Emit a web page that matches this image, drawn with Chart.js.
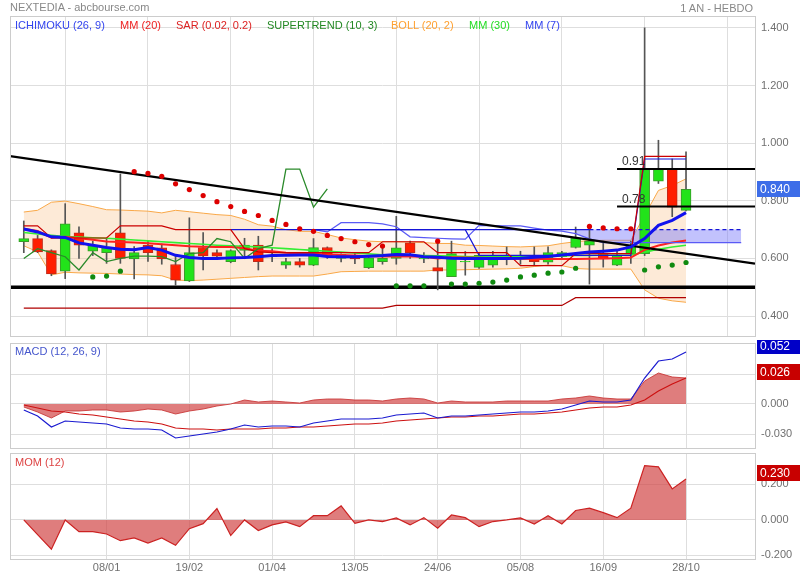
<!DOCTYPE html>
<html lang="fr">
<head>
<meta charset="UTF-8">
<title>NEXTEDIA - abcbourse.com</title>
<script src="https://cdn.jsdelivr.net/npm/chart.js"></script>
<style>
  body { margin: 0; background: #fff; font-family: "Liberation Sans", Arial, sans-serif; }
  #wrap { position: relative; width: 800px; height: 580px; overflow: hidden; }
  canvas { position: absolute; left: 0; }
  .txt { position: absolute; font-size: 11px; line-height: 13px; white-space: nowrap; }
</style>
</head>
<body>
<div id="wrap">
  <canvas id="main" width="800" height="340" style="top:0"></canvas>
  <canvas id="macd" width="800" height="110" style="top:340px"></canvas>
  <canvas id="mom" width="800" height="130" style="top:450px"></canvas>

  <div class="txt" style="left:10px;top:1px;color:#888">NEXTEDIA - abcbourse.com</div>
  <div class="txt" style="right:47px;top:2px;color:#888">1 AN - HEBDO</div>

  <div class="txt" style="left:15px;top:19px;color:#3344ee">ICHIMOKU (26, 9)</div>
  <div class="txt" style="left:120px;top:19px;color:#ee2222">MM (20)</div>
  <div class="txt" style="left:176px;top:19px;color:#dd2222">SAR (0.02, 0.2)</div>
  <div class="txt" style="left:267px;top:19px;color:#228822">SUPERTREND (10, 3)</div>
  <div class="txt" style="left:391px;top:19px;color:#ffa030">BOLL (20, 2)</div>
  <div class="txt" style="left:469px;top:19px;color:#22dd22">MM (30)</div>
  <div class="txt" style="left:525px;top:19px;color:#3344ee">MM (7)</div>

  <div class="txt" style="left:15px;top:345px;color:#4455cc">MACD (12, 26, 9)</div>
  <div class="txt" style="left:15px;top:456px;color:#dd4444">MOM (12)</div>
</div>

<script>
// weekly candles, index 0 = 27/11 ... index 48 = 28/10
const opens  = [0.658,0.669,0.627,0.556,0.689,0.625,0.620,0.689,0.598,0.646,
                0.637,0.579,0.522,0.638,0.620,0.589,0.628,0.646,0.606,0.577,
                0.589,0.577,0.638,0.600,0.609,0.568,0.589,0.600,0.654,0.598,
                0.568,0.537,0.588,0.569,0.577,0.611,0.600,0.611,0.587,0.606,
                0.638,0.646,0.617,0.577,0.617,0.617,0.868,0.910,0.767];
const highs  = [0.730,0.680,0.630,0.790,0.710,0.660,0.669,0.893,0.641,0.659,
                0.650,0.607,0.741,0.690,0.630,0.630,0.670,0.677,0.634,0.600,
                0.600,0.669,0.640,0.616,0.620,0.610,0.640,0.746,0.660,0.620,
                0.663,0.660,0.624,0.620,0.625,0.640,0.625,0.640,0.640,0.625,
                0.709,0.709,0.660,0.630,0.660,1.400,1.010,0.945,0.970];
const lows   = [0.620,0.620,0.540,0.530,0.600,0.610,0.583,0.583,0.529,0.590,
                0.580,0.507,0.520,0.560,0.600,0.585,0.600,0.560,0.589,0.565,
                0.570,0.575,0.600,0.588,0.582,0.565,0.580,0.580,0.600,0.585,
                0.491,0.537,0.542,0.565,0.570,0.578,0.580,0.575,0.580,0.600,
                0.636,0.511,0.570,0.575,0.583,0.610,0.860,0.745,0.765];
const closes = [0.669,0.623,0.546,0.720,0.646,0.646,0.638,0.600,0.620,0.620,
                0.598,0.525,0.620,0.609,0.608,0.627,0.646,0.589,0.610,0.589,
                0.577,0.638,0.606,0.614,0.598,0.602,0.600,0.637,0.620,0.601,
                0.556,0.617,0.590,0.611,0.608,0.606,0.611,0.589,0.620,0.620,
                0.671,0.660,0.598,0.612,0.646,0.910,0.910,0.778,0.840];

// moving averages and bands
const mm7  = [0.702,0.692,0.675,0.673,0.654,0.646,0.638,0.632,0.630,0.638,
              0.629,0.611,0.603,0.600,0.600,0.602,0.603,0.606,0.610,0.611,
              0.612,0.612,0.607,0.606,0.606,0.608,0.610,0.614,0.613,0.606,
              0.604,0.601,0.600,0.600,0.600,0.600,0.601,0.604,0.607,0.612,
              0.617,0.622,0.625,0.629,0.640,0.669,0.715,0.732,0.759];
const mm20 = [0.703,0.695,0.672,0.675,0.670,0.665,0.659,0.657,0.655,0.653,
              0.649,0.646,0.642,0.641,0.640,0.640,0.635,0.627,0.625,0.620,
              0.617,0.616,0.614,0.612,0.610,0.608,0.607,0.607,0.607,0.606,
              0.600,0.604,0.603,0.602,0.601,0.600,0.599,0.598,0.598,0.598,
              0.598,0.599,0.600,0.601,0.603,0.630,0.645,0.655,0.662];
const mm30 = [0.690,0.685,0.680,0.676,0.674,0.672,0.670,0.667,0.664,0.661,
              0.658,0.655,0.652,0.649,0.646,0.644,0.642,0.640,0.637,0.634,
              0.631,0.628,0.625,0.622,0.619,0.616,0.613,0.611,0.611,0.610,
              0.609,0.608,0.607,0.606,0.606,0.606,0.606,0.607,0.608,0.609,
              0.610,0.610,0.611,0.611,0.612,0.622,0.632,0.640,0.646];
const bbUp  = [0.761,0.767,0.795,0.799,0.790,0.780,0.769,0.768,0.766,0.764,
               0.758,0.767,0.762,0.757,0.752,0.749,0.736,0.717,0.712,0.700,
               0.694,0.694,0.683,0.671,0.665,0.660,0.658,0.658,0.657,0.655,
               0.652,0.652,0.646,0.645,0.643,0.641,0.640,0.642,0.644,0.652,
               0.658,0.662,0.663,0.663,0.663,0.749,0.836,0.853,0.876];
const bbLow = [0.644,0.623,0.543,0.552,0.550,0.549,0.548,0.546,0.544,0.543,
               0.540,0.525,0.523,0.525,0.528,0.531,0.534,0.537,0.539,0.539,
               0.539,0.539,0.546,0.554,0.555,0.556,0.556,0.556,0.556,0.556,
               0.560,0.560,0.561,0.562,0.563,0.564,0.566,0.572,0.577,0.575,
               0.565,0.563,0.563,0.563,0.563,0.491,0.462,0.453,0.448];

// ichimoku
const tenkan = [0.713,0.713,0.671,0.671,0.671,0.671,0.671,0.713,0.713,0.713,
                0.713,0.700,0.700,0.700,0.700,0.700,0.634,0.623,0.620,0.620,
                0.620,0.620,0.620,0.620,0.620,0.620,0.658,0.658,0.658,0.658,
                0.620,0.620,0.620,0.620,0.620,0.620,0.575,0.575,0.575,0.575,
                0.617,0.617,0.617,0.617,0.617,0.954,0.954,0.954,0.954];
const kijun  = [null,null,null,null,null,null,null,null,null,null,
                null,null,null,null,null,0.700,0.700,0.700,0.700,0.700,
                0.700,0.700,0.700,0.700,0.700,0.700,0.700,0.700,0.700,0.700,
                0.700,0.700,0.700,0.611,0.611,0.611,0.611,0.611,0.611,0.611,
                0.611,0.611,0.611,0.611,0.611,0.945,0.945,0.945,0.945];
// spans run 4 weeks past the last candle (to index 52)
const senkouA = [null,null,null,null,null,null,null,null,null,null,
                 null,null,null,null,null,null,null,null,null,null,
                 null,0.700,0.700,0.700,0.700,0.700,0.700,0.700,0.700,0.700,
                 0.700,0.700,0.700,0.700,0.700,0.700,0.700,0.700,0.700,0.700,
                 0.700,0.700,0.700,0.700,0.700,0.700,0.700,0.700,0.700,0.700,
                 0.700,0.700,0.700];
const senkouB = [null,null,null,null,null,null,null,null,null,null,
                 null,null,null,null,null,null,null,null,null,null,
                 null,0.700,0.692,0.724,0.724,0.724,0.720,0.710,0.675,0.672,
                 0.670,0.668,0.667,0.715,0.714,0.713,0.713,0.705,0.698,0.695,
                 0.686,0.668,0.655,0.655,0.655,0.655,0.655,0.655,0.655,0.655,
                 0.655,0.655,0.655];
const cloudFrom = 40;
const chikou = [0.428,0.428,0.428,0.428,0.428,0.428,0.428,0.428,0.428,0.428,
                0.428,0.428,0.428,0.428,0.428,0.428,0.428,0.428,0.428,0.428,
                0.428,0.428,0.428,0.428,0.428,0.428,0.428,0.437,0.437,0.437,
                0.437,0.437,0.437,0.437,0.437,0.437,0.437,0.437,0.437,0.437,
                0.464,0.464,0.464,0.464,0.464,0.464,0.464,0.464,0.464];

const supertrend = [0.600,0.634,0.620,0.606,0.560,0.620,0.589,0.600,0.608,0.608,
                    0.606,0.589,0.617,0.620,0.669,0.658,0.600,0.634,0.646,0.910,
                    0.910,0.778,0.841];

const sarHigh = [null,null,null,null,null,null,null,null,0.901,0.895,
                 0.885,0.859,0.839,0.818,0.797,0.780,0.763,0.749,0.732,0.718,
                 0.703,0.694,0.680,0.669,0.658,0.648,0.643,null,null,null,
                 0.660,null,null,null,null,null,null,null,null,null,
                 null,0.711,0.706,0.703,0.703,null,null,null,null];
const sarLow  = [null,null,null,null,null,0.536,0.539,0.556,null,null,
                 null,null,null,null,null,null,null,null,null,null,
                 null,null,null,null,null,null,null,0.505,0.505,0.505,
                 null,0.511,0.511,0.514,0.518,0.525,0.536,0.542,0.549,0.553,
                 0.566,null,null,null,null,0.560,0.571,0.577,0.586];

// drawn lines: resistance trend, support, retracement levels
const trendX = [-1, 53];
const trendY = [0.955, 0.582];
const supportLevel = 0.5;
const fibLevels = [0.91, 0.78];
const fibFrom = 43;

// MACD (12, 26, 9)
const macd   = [-0.006,-0.012,-0.023,-0.017,-0.018,-0.019,-0.020,-0.024,-0.025,-0.025,
                -0.026,-0.034,-0.032,-0.030,-0.028,-0.025,-0.021,-0.023,-0.022,-0.022,
                -0.023,-0.019,-0.017,-0.015,-0.015,-0.015,-0.014,-0.011,-0.010,-0.009,
                -0.014,-0.012,-0.012,-0.011,-0.010,-0.009,-0.008,-0.008,-0.007,-0.005,
                -0.001,0.003,0.002,0.002,0.004,0.026,0.043,0.045,0.052];
const signal = [-0.001,-0.004,-0.007,-0.008,-0.010,-0.011,-0.013,-0.015,-0.017,-0.018,
                -0.020,-0.024,-0.025,-0.025,-0.026,-0.025,-0.025,-0.025,-0.024,-0.024,
                -0.023,-0.023,-0.022,-0.021,-0.020,-0.020,-0.019,-0.017,-0.016,-0.015,
                -0.014,-0.013,-0.013,-0.012,-0.012,-0.011,-0.010,-0.010,-0.009,-0.008,
                -0.006,-0.004,-0.003,-0.003,-0.001,0.004,0.013,0.020,0.026];
const histo  = [-0.003,-0.008,-0.014,-0.007,-0.007,-0.006,-0.006,-0.008,-0.007,-0.005,
                -0.006,-0.010,-0.007,-0.005,-0.002,0.000,0.004,0.002,0.003,0.002,
                0.001,0.004,0.005,0.005,0.004,0.004,0.003,0.005,0.006,0.005,
                0.001,0.003,0.002,0.002,0.002,0.003,0.003,0.003,0.003,0.005,
                0.006,0.008,0.006,0.005,0.005,0.023,0.031,0.027,0.026];

// MOM (12)
const mom = [0.000,-0.083,-0.165,0.000,-0.066,-0.066,-0.079,-0.117,-0.101,-0.130,
             -0.101,-0.143,-0.049,-0.021,0.064,-0.088,0.000,-0.060,-0.028,-0.011,
             -0.038,0.024,0.024,0.079,-0.019,0.000,-0.009,0.011,-0.028,0.013,
             -0.047,0.028,0.013,-0.038,-0.009,0.000,0.011,-0.023,0.024,-0.023,
             0.053,0.066,0.041,0.013,0.066,0.306,0.299,0.175,0.230];

// x axis
const tickIdx    = [6, 12, 18, 24, 30, 36, 42, 48];
const tickLabels = ['08/01', '19/02', '01/04', '13/05', '24/06', '05/08', '16/09', '28/10'];
const xMin = -1, xMax = 53;

const mainTicks = [0.4, 0.6, 0.8, 1.0, 1.2, 1.4];
const macdTicks = [-0.03, 0, 0.03];
const momTicks  = [-0.2, 0, 0.2];

Chart.defaults.font.family = '"Liberation Sans", Arial, sans-serif';
Chart.defaults.font.size = 11;
Chart.defaults.color = '#707070';
Chart.defaults.animation = false;

const GRID = '#dedede';
const xy = arr => arr.map((v, i) => ({ x: i, y: v }));

function line(data, color, width, extra) {
    return Object.assign({
        type: 'line', data: data, borderColor: color, borderWidth: width,
        pointRadius: 0, fill: false, tension: 0, spanGaps: false
    }, extra || {});
}
function dots(arr, color) {
    return line(xy(arr), 'transparent', 0, {
        showLine: false, pointRadius: 2.6, pointBackgroundColor: color, pointBorderWidth: 0
    });
}

// panel border + value tags on the right
function panelPlugin(tags, labels) {
    return {
        id: 'panel',
        afterDraw(chart) {
            const ctx = chart.ctx, a = chart.chartArea, ys = chart.scales.y, xs = chart.scales.x;
            ctx.save();
            ctx.strokeStyle = '#cccccc';
            ctx.lineWidth = 1;
            ctx.strokeRect(a.left + 0.5, a.top + 0.5, a.right - a.left, a.bottom - a.top);
            (labels || []).forEach(l => {
                ctx.fillStyle = '#333';
                ctx.font = '12px "Liberation Sans", Arial, sans-serif';
                ctx.textBaseline = 'middle';
                ctx.fillText(l.text, xs.getPixelForValue(l.x) + 5, ys.getPixelForValue(l.y) - 7);
            });
            tags.forEach(t => {
                const y = Math.round(ys.getPixelForValue(t.value) + t.dy);
                ctx.fillStyle = t.bg;
                ctx.fillRect(a.right + 2, y - 8, 45, 16);
                ctx.fillStyle = '#fff';
                ctx.font = '12px "Liberation Sans", Arial, sans-serif';
                ctx.textBaseline = 'middle';
                ctx.fillText(t.value.toFixed(3), a.right + 5, y + 1);
            });
            ctx.restore();
        }
    };
}

function options(yMin, yMax, yTicks, pad, showX) {
    return {
        responsive: false,
        devicePixelRatio: 1,
        layout: { padding: pad },
        plugins: { legend: { display: false }, tooltip: { enabled: false } },
        scales: {
            x: {
                type: 'linear', min: xMin, max: xMax, offset: false,
                grid: { color: GRID, drawTicks: false },
                border: { display: false },
                ticks: {
                    display: showX, padding: 2, maxRotation: 0,
                    callback: (v, i) => tickLabels[i]
                },
                afterBuildTicks: s => { s.ticks = tickIdx.map(v => ({ value: v })); },
                afterFit: s => {
                    s.height = showX ? 21 : 0;
                    s.paddingLeft = 0; s.paddingRight = 0;
                }
            },
            y: {
                position: 'right', min: yMin, max: yMax,
                grid: { color: GRID, drawTicks: false },
                border: { display: false },
                ticks: { padding: 6, callback: v => Number(v).toFixed(3) },
                afterBuildTicks: s => { s.ticks = yTicks.map(v => ({ value: v })); },
                afterFit: s => {
                    s.width = 45;
                    s.paddingTop = 0; s.paddingBottom = 0;
                }
            }
        }
    };
}

// ---------- main price panel ----------
const idx = closes.map((_, i) => i);
const up = idx.map(i => closes[i] >= opens[i]);
const cloudTop = senkouA.map((v, i) => ({ x: i, y: v })).slice(cloudFrom);
const cloudBot = senkouB.map((v, i) => ({ x: i, y: v })).slice(cloudFrom);

const mainSets = [
    line(xy(bbUp), '#f9a848', 1, { fill: '+1', backgroundColor: 'rgba(250,205,160,0.42)' }),
    line(xy(bbLow), '#f9a848', 1),
    line(cloudTop, 'transparent', 0),
    line(cloudBot, 'transparent', 0, { fill: '-1', backgroundColor: 'rgba(120,120,250,0.45)' }),
    line(xy(chikou), '#b00000', 1.2),
    line(trendX.map(x => ({ x: x, y: supportLevel })), '#000', 3.5),
    {
        type: 'bar', grouped: false, barThickness: 1,
        data: idx.map(i => ({ x: i, y: [lows[i], highs[i]] })),
        backgroundColor: '#555'
    },
    {
        type: 'bar', grouped: false, barThickness: 10, borderWidth: 1, borderSkipped: false,
        data: idx.map(i => ({ x: i, y: [opens[i], closes[i]] })),
        backgroundColor: up.map(u => u ? '#22e31a' : '#ff1e00'),
        borderColor: up.map(u => u ? '#3a9a2a' : '#c02a1a')
    },
    line(xy(mm30), '#33ee33', 1.6),
    line(xy(mm20), '#ff2020', 2),
    line(xy(senkouB), '#5a5af5', 1.2),
    line(xy(senkouA), '#1515d8', 1.2, {
        segment: { borderDash: c => c.p0.parsed.x >= cloudFrom + 1 ? [4, 3] : undefined }
    }),
    line(xy(kijun), '#1515d8', 1.2),
    line(xy(tenkan), '#cc0000', 1.2),
    line(xy(supertrend), '#2a8a2a', 1.3),
    line(trendX.map((x, i) => ({ x: x, y: trendY[i] })), '#000', 2.2),
    line([{ x: fibFrom, y: fibLevels[0] }, { x: xMax, y: fibLevels[0] }], '#000', 2),
    line([{ x: fibFrom, y: fibLevels[1] }, { x: xMax, y: fibLevels[1] }], '#000', 2),
    line(xy(mm7), '#1111ee', 3),
    dots(sarHigh, '#dd0000'),
    dots(sarLow, '#108a10')
];
mainSets.forEach((d, k) => { d.order = mainSets.length - k; });

new Chart(document.getElementById('main'), {
    type: 'bar',
    data: { datasets: mainSets },
    options: options(0.331, 1.441, mainTicks, { left: 10, right: 0, top: 16, bottom: 2 }, false),
    plugins: [panelPlugin(
        [{ value: closes[closes.length - 1], bg: '#3d6de8', dy: 0 }],
        fibLevels.map(f => ({ text: String(f), x: fibFrom, y: f }))
    )]
});

// ---------- MACD panel ----------
const macdSets = [
    line(xy(histo), 'rgba(200,50,50,0.85)', 1, { fill: 'origin', backgroundColor: 'rgba(210,70,70,0.7)' }),
    line(xy(signal), '#cc1111', 1.2),
    line(xy(macd), '#1a1ad0', 1.2)
];
macdSets.forEach((d, k) => { d.order = macdSets.length - k; });

new Chart(document.getElementById('macd'), {
    type: 'line',
    data: { datasets: macdSets },
    options: options(-0.044, 0.061, macdTicks, { left: 10, right: 0, top: 3, bottom: 2 }, false),
    plugins: [panelPlugin([
        { value: macd[macd.length - 1], bg: '#0000c8', dy: -6 },
        { value: signal[signal.length - 1], bg: '#c80000', dy: -6 }
    ])]
});

// ---------- MOM panel ----------
new Chart(document.getElementById('mom'), {
    type: 'line',
    data: {
        datasets: [
            line(xy(mom), '#cc2222', 1.2, { fill: 'origin', backgroundColor: 'rgba(210,70,70,0.7)' })
        ]
    },
    options: options(-0.220, 0.377, momTicks, { left: 10, right: 0, top: 3, bottom: 0 }, true),
    plugins: [panelPlugin([{ value: mom[mom.length - 1], bg: '#c80000', dy: -6 }])]
});
</script>
</body>
</html>
